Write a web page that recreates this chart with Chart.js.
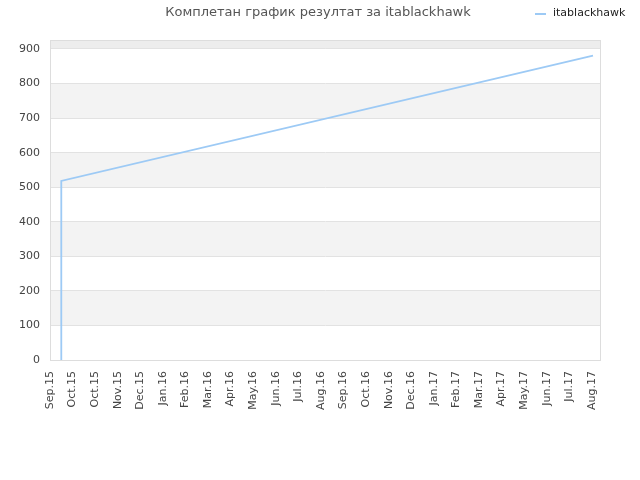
<!DOCTYPE html>
<html>
<head>
<meta charset="utf-8">
<script src="https://cdn.jsdelivr.net/npm/chart.js@4"></script>
<style>
  body { margin: 0; background: #fff; }
  canvas { display: block; }
</style>
</head>
<body>
<canvas id="scoreChart" width="640" height="480"></canvas>
<script>
// ========== DATA ========== //
const chartTitle = "Комплетан график резултат за itablackhawk";
const seriesName = "itablackhawk";
const monthLabels = [
  "Sep.15", "Oct.15", "Oct.15", "Nov.15", "Dec.15", "Jan.16", "Feb.16", "Mar.16",
  "Apr.16", "May.16", "Jun.16", "Jul.16", "Aug.16", "Sep.16", "Oct.16", "Nov.16",
  "Dec.16", "Jan.17", "Feb.17", "Mar.17", "Apr.17", "May.17", "Jun.17", "Jul.17", "Aug.17"
];
// position along the month axis (index of label, fractional) and score
const pointPos = [0.5, 0.5, 24.05];
const pointScore = [0, 518, 881];

const yMax = 926;
const lineColor = "#9dcaf5";
const fontFamily = "'DejaVu Sans', sans-serif";

// ========== PLUGINS ========== //
// alternating grey bands behind the plot + frame
const bandsPlugin = {
  id: "bands",
  beforeDraw(chart) {
    const { ctx, chartArea: a, scales: { y } } = chart;
    ctx.save();
    for (let v = 0; v < yMax; v += 100) {
      const top = Math.min(v + 100, yMax);
      const last = v + 100 > yMax;
      if ((v / 100) % 2 === 1 || last) {
        ctx.fillStyle = last ? "#ededed" : "#f3f3f3";
        const y0 = y.getPixelForValue(v);
        const y1 = y.getPixelForValue(top);
        ctx.fillRect(a.left, y1, a.right - a.left, y0 - y1);
      }
    }
    ctx.restore();
  },
  afterDraw(chart) {
    const { ctx, chartArea: a } = chart;
    ctx.save();
    ctx.strokeStyle = "#dddddd";
    ctx.lineWidth = 1;
    ctx.strokeRect(Math.round(a.left) + 0.5, Math.round(a.top) + 0.5,
      Math.round(a.right - a.left), Math.round(a.bottom - a.top));
    ctx.restore();
  }
};

// title centred on top, legend in the right corner
const headerPlugin = {
  id: "header",
  afterDraw(chart) {
    const { ctx } = chart;
    ctx.save();
    ctx.textBaseline = "middle";
    ctx.font = "13px " + fontFamily;
    ctx.fillStyle = "#555555";
    ctx.textAlign = "center";
    ctx.fillText(chartTitle, 318, 13);

    ctx.strokeStyle = lineColor;
    ctx.lineWidth = 2;
    ctx.beginPath();
    ctx.moveTo(535, 14);
    ctx.lineTo(546, 14);
    ctx.stroke();

    ctx.font = "11px " + fontFamily;
    ctx.fillStyle = "#222222";
    ctx.textAlign = "left";
    ctx.fillText(chart.data.datasets[0].label, 553, 13);
    ctx.restore();
  }
};

// ========== CHART ========== //
const ctx = document.getElementById("scoreChart").getContext("2d");

new Chart(ctx, {
  type: "line",
  data: {
    datasets: [{
      label: seriesName,
      data: pointPos.map((p, i) => ({ x: p, y: pointScore[i] })),
      borderColor: lineColor,
      backgroundColor: lineColor,
      borderWidth: 1.8,
      pointRadius: 0,
      fill: false,
      tension: 0
    }]
  },
  options: {
    responsive: false,
    animation: false,
    devicePixelRatio: 1,
    layout: { padding: { top: 40, right: 40, left: 0, bottom: 0 } },
    plugins: {
      legend: { display: false },
      title: { display: false },
      tooltip: { enabled: false }
    },
    scales: {
      x: {
        type: "linear",
        min: 0,
        max: 24.36,
        afterFit: s => { s.height = 120; },
        grid: { display: false, drawTicks: false },
        border: { display: true, color: "#dddddd" },
        ticks: {
          stepSize: 1,
          includeBounds: false,
          autoSkip: false,
          minRotation: 90,
          maxRotation: 90,
          padding: 11,
          color: "#444444",
          font: { family: fontFamily, size: 11 },
          callback: v => Number.isInteger(v) ? monthLabels[v] : ""
        }
      },
      y: {
        min: 0,
        max: yMax,
        afterFit: s => { s.width = 50; },
        grid: { color: "#e2e2e2", drawTicks: false },
        border: { display: true, color: "#dddddd" },
        ticks: {
          stepSize: 100,
          includeBounds: false,
          padding: 10,
          color: "#444444",
          font: { family: fontFamily, size: 11 }
        }
      }
    }
  },
  plugins: [bandsPlugin, headerPlugin]
});
</script>
</body>
</html>
